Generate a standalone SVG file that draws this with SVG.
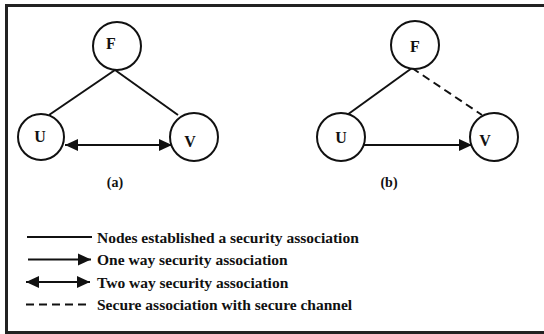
<svg xmlns="http://www.w3.org/2000/svg" width="544" height="334" viewBox="0 0 544 334">
<style>
.frame{fill:none;stroke:#222;stroke-width:3}
.node circle{fill:#fff;stroke:#111;stroke-width:2}
.lbl{font-family:"Liberation Serif","Times New Roman",serif;font-weight:bold;fill:#111}
.nl{font-size:16px;text-anchor:middle;dominant-baseline:central}
.cap{font-size:14px;text-anchor:middle;dominant-baseline:central}
.leg{font-size:15.5px;dominant-baseline:central}
.ln{stroke:#111;stroke-width:2;fill:none}
.dash{stroke-dasharray:8 5}
</style>
<defs>
<marker id="ah" markerUnits="userSpaceOnUse" markerWidth="14" markerHeight="14" refX="13" refY="7" orient="auto-start-reverse" viewBox="0 0 14 14">
<path d="M0,1 L13,7 L0,13 Z" fill="#111"/>
</marker>
</defs>
<rect width="544" height="334" fill="#fff"/>
<path class="frame" d="M545,5.5 H6.5 V332.5 H545"/>
<g id="connectors">
<line class="ln" x1="115" y1="70" x2="49" y2="115"/>
<line class="ln" x1="115" y1="70" x2="178" y2="115"/>
<line class="ln" x1="65" y1="145" x2="172" y2="145" marker-start="url(#ah)" marker-end="url(#ah)"/>
<line class="ln" x1="412" y1="68" x2="347" y2="115"/>
<line class="ln dash" x1="412" y1="68" x2="482" y2="115"/>
<line class="ln" x1="364" y1="145" x2="472" y2="145" marker-end="url(#ah)"/>
</g>
<g id="a-F" class="node"><circle cx="117" cy="46" r="24"/><text class="lbl nl" x="111" y="43">F</text></g>
<g id="a-U" class="node"><circle cx="41" cy="137" r="23"/><text class="lbl nl" x="40" y="136">U</text></g>
<g id="a-V" class="node"><circle cx="194" cy="137" r="24"/><text class="lbl nl" x="190" y="141">V</text></g>
<g id="b-F" class="node"><circle cx="415" cy="45" r="24"/><text class="lbl nl" x="415" y="46">F</text></g>
<g id="b-U" class="node"><circle cx="341" cy="137" r="24"/><text class="lbl nl" x="341" y="137">U</text></g>
<g id="b-V" class="node"><circle cx="494" cy="137" r="24"/><text class="lbl nl" x="485" y="140">V</text></g>
<text class="lbl cap" x="115" y="182">(a)</text>
<text class="lbl cap" x="389" y="182">(b)</text>
<g id="legend">
<line class="ln" x1="27" y1="237" x2="92" y2="237"/>
<text class="lbl leg" x="97" y="237">Nodes established a security association</text>
<line class="ln" x1="28" y1="259.5" x2="91" y2="259.5" marker-end="url(#ah)"/>
<text class="lbl leg" x="97" y="259.5">One way security association</text>
<line class="ln" x1="26" y1="282" x2="90" y2="282" marker-start="url(#ah)" marker-end="url(#ah)"/>
<text class="lbl leg" x="97" y="282">Two way security association</text>
<line class="ln dash" x1="26" y1="304.5" x2="88" y2="304.5"/>
<text class="lbl leg" x="97" y="304.5">Secure association with secure channel</text>
</g>
</svg>
